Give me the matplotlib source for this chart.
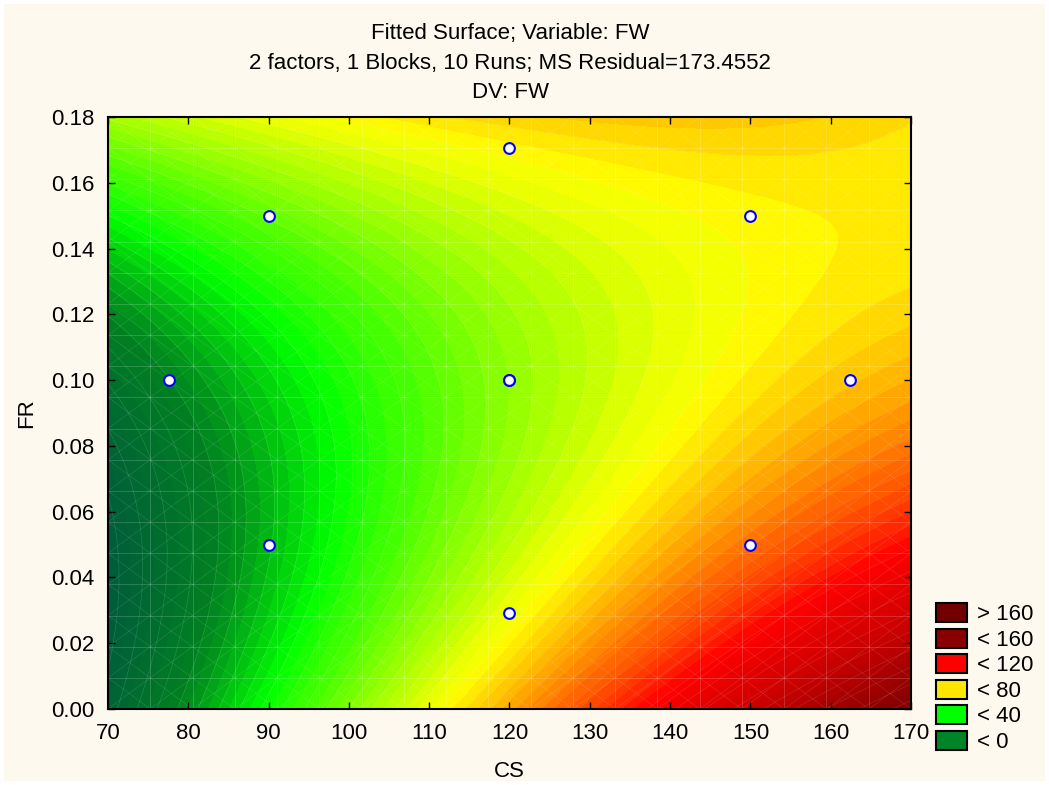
import numpy as np
import matplotlib
matplotlib.use('Agg')
import matplotlib.pyplot as plt
from matplotlib.colors import LinearSegmentedColormap, Normalize
from matplotlib.patches import Patch, Rectangle

plt.rcParams['font.family'] = ['Liberation Sans', 'DejaVu Sans']
plt.rcParams['font.size'] = 16

# design runs (central composite design, center point run twice)
cs = [90, 90, 150, 150, 77.57, 162.43, 120, 120, 120, 120]
fr = [0.05, 0.15, 0.05, 0.15, 0.10, 0.10, 0.0293, 0.1707, 0.10, 0.10]
fw = [29.4, 55.6, 102.0, 81.4, 19.8, 89.4, 77.6, 81.6, 61.1, 64.1]

# colour scale of the fitted surface
level_values = [-20, 0, 20, 40, 80, 120, 160, 200]
level_colors = ['#004f40', '#005f38', '#008020', '#00ff00', '#ffff00', '#ff0000', '#880000', '#580000']

legend_labels = ['> 160', '< 160', '< 120', '< 80', '< 40', '< 0']
legend_colors = ['#700000', '#880000', '#ff0000', '#ffe600', '#00ff00', '#008428']

x_ticks = [70, 80, 90, 100, 110, 120, 130, 140, 150, 160, 170]
y_ticks = [0.00, 0.02, 0.04, 0.06, 0.08, 0.10, 0.12, 0.14, 0.16, 0.18]

title_lines = ['Fitted Surface; Variable: FW',
               '2 factors, 1 Blocks, 10 Runs; MS Residual=173.4552',
               'DV: FW']

W, H = 1049, 785


def fx(px):
    return px / W


def fy(py):
    return 1 - py / H


# quadratic response surface fitted to the runs (coded factors)
cs_a, fr_a, fw_a = np.array(cs), np.array(fr), np.array(fw)


def design(a, b):
    z1 = (a - 120) / 30
    z2 = (b - 0.10) / 0.05
    return np.column_stack([np.ones_like(z1), z1, z2, z1 ** 2, z2 ** 2, z1 * z2])


coef, *_ = np.linalg.lstsq(design(cs_a, fr_a), fw_a, rcond=None)

gx, gy = np.meshgrid(np.linspace(70, 170, 241), np.linspace(0, 0.18, 241))
gz = (design(gx.ravel(), gy.ravel()) @ coef).reshape(gx.shape)

vmin, vmax = level_values[0], level_values[-1]
pos = [(v - vmin) / (vmax - vmin) for v in level_values]
cmap = LinearSegmentedColormap.from_list('fw', list(zip(pos, level_colors)))
norm = Normalize(vmin, vmax)

fig = plt.figure(figsize=(W / 100, H / 100), dpi=100, facecolor='white')
fig.patches.append(Rectangle((fx(4), fy(781)), fx(1041), 777 / H, transform=fig.transFigure,
                             facecolor='#fdf9ee', edgecolor='none', zorder=-1))

ax = fig.add_axes([fx(108), fy(709), fx(911 - 108), (709 - 117) / H])
ax.contourf(gx, gy, gz, levels=np.arange(-80, 240, 2.5), cmap=cmap, norm=norm, extend='both')
ax.contour(gx, gy, gz, levels=np.arange(-40, 200, 5), colors='white', linewidths=0.5, alpha=0.14)

# faint surface mesh
xs = np.linspace(70, 170, 20)
ys = np.linspace(0, 0.18, 20)
for x in xs:
    ax.axvline(x, color='white', lw=0.6, alpha=0.2)
for y in ys:
    ax.axhline(y, color='white', lw=0.6, alpha=0.2)
idx = np.arange(20)
for d in range(-19, 20):
    j = idx + d
    m = (j >= 0) & (j < 20)
    ax.plot(xs[idx[m]], ys[j[m]], color='white', lw=0.5, alpha=0.13)
    ax.plot(xs[idx[m]], ys[::-1][j[m]], color='white', lw=0.5, alpha=0.13)

ax.scatter(cs, fr, s=60, facecolor='white', edgecolor='#0000ff', linewidth=1.5, zorder=5)

ax.set_xlim(70, 170)
ax.set_ylim(0, 0.18)
ax.set_xticks(x_ticks)
ax.set_yticks(y_ticks)
ax.set_yticklabels([f'{v:.2f}' for v in y_ticks])
ax.tick_params(direction='in', length=5, width=1, top=True, right=True, labelsize=16, pad=10)
for s in ax.spines.values():
    s.set_linewidth(1.5)
ax.set_xlabel('CS', fontsize=16, labelpad=12)
ax.set_ylabel('FR', fontsize=16, labelpad=10)

for line, py in zip(title_lines, [34, 63, 92]):
    fig.text(fx(510), fy(py), line, ha='center', va='center', fontsize=16)

handles = [Patch(facecolor=c, edgecolor='black', linewidth=1.5) for c in legend_colors]
fig.legend(handles, legend_labels, loc='lower left', bbox_to_anchor=(fx(936), fy(753)),
           frameon=False, fontsize=16, handlelength=1.4, handleheight=0.95,
           handletextpad=0.45, labelspacing=0.15, borderaxespad=0, borderpad=0)

fig.savefig('out.png', dpi=100, facecolor=fig.get_facecolor())
